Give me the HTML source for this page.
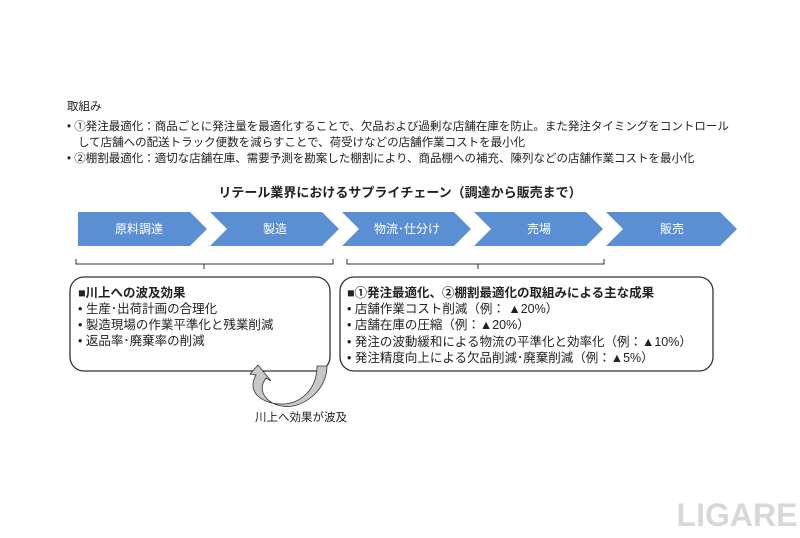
<!DOCTYPE html>
<html><head><meta charset="utf-8"><style>
body{margin:0;background:#fff}
svg text{font-family:"Liberation Sans","Noto Sans CJK JP",sans-serif;fill:#222}
</style></head><body>
<svg width="800" height="533" viewBox="0 0 800 533" xmlns="http://www.w3.org/2000/svg">
<g font-size="11.5">
<text x="67" y="110">取組み</text>
<text x="67" y="130">•  ①発注最適化：商品ごとに発注量を最適化することで、欠品および過剰な店舗在庫を防止。また発注タイミングをコントロール</text>
<text x="78" y="146">して店舗への配送トラック便数を減らすことで、荷受けなどの店舗作業コストを最小化</text>
<text x="67" y="162">•  ②棚割最適化：適切な店舗在庫、需要予測を勘案した棚割により、商品棚への補充、陳列などの店舗作業コストを最小化</text>
</g>
<text x="400" y="197" font-size="13" font-weight="bold" text-anchor="middle">リテール業界におけるサプライチェーン（調達から販売まで）</text>
<g fill="#5b8fd4">
<polygon points="78,212 190,212 207,229 190,246 78,246"/>
<polygon points="210,212 322,212 339,229 322,246 210,246 227,229"/>
<polygon points="342,212 454,212 471,229 454,246 342,246 359,229"/>
<polygon points="474,212 586,212 603,229 586,246 474,246 491,229"/>
<polygon points="606,212 720,212 737,229 720,246 606,246 623,229"/>
</g>
<g font-size="12" text-anchor="middle">
<text x="139" y="233" style="fill:#fff">原料調達</text>
<text x="275" y="233" style="fill:#fff">製造</text>
<text x="407" y="233" style="fill:#fff">物流･仕分け</text>
<text x="539" y="233" style="fill:#fff">売場</text>
<text x="672" y="233" style="fill:#fff">販売</text>
</g>
<g stroke="#333" fill="none" stroke-width="1">
<path d="M76,259 V264 H333 V259 M204,264 V269"/>
<path d="M347,259 V264 H604 V259 M478,264 V269"/>
<rect x="70" y="277" width="260" height="94" rx="14" stroke-width="1.3"/>
<rect x="340" y="277" width="373" height="94" rx="14" stroke-width="1.3"/>
</g>
<g font-size="12.5">
<text x="78" y="297" font-weight="bold">■川上への波及効果</text>
<text x="78" y="313">•  生産･出荷計画の合理化</text>
<text x="78" y="329">•  製造現場の作業平準化と残業削減</text>
<text x="78" y="345">•  返品率･廃棄率の削減</text>
<text x="347" y="297" font-weight="bold">■①発注最適化、②棚割最適化の取組みによる主な成果</text>
<text x="347" y="313">•  店舗作業コスト削減（例： ▲20%）</text>
<text x="347" y="329">•  店舗在庫の圧縮（例：▲20%）</text>
<text x="347" y="346">•  発注の波動緩和による物流の平準化と効率化（例：▲10%）</text>
<text x="347" y="362">•  発注精度向上による欠品削減･廃棄削減（例：▲5%）</text>
</g>
<path d="M317,366 L327,366 C327,392 300,410 282,406 C268,404 256,392 266,378 L271,381 L258,365 L250,374 L256,375 C246,392 262,404 282,404 C300,404 317,390 317,366 Z" fill="#c8c8c8" stroke="#333" stroke-width="0.8"/>
<text x="301" y="421" font-size="11.5" text-anchor="middle">川上へ効果が波及</text>
<text x="737" y="526" font-size="32" text-anchor="middle" style="fill:#d8d8d8" font-weight="bold">LIGARE</text>
</svg>
</body></html>
